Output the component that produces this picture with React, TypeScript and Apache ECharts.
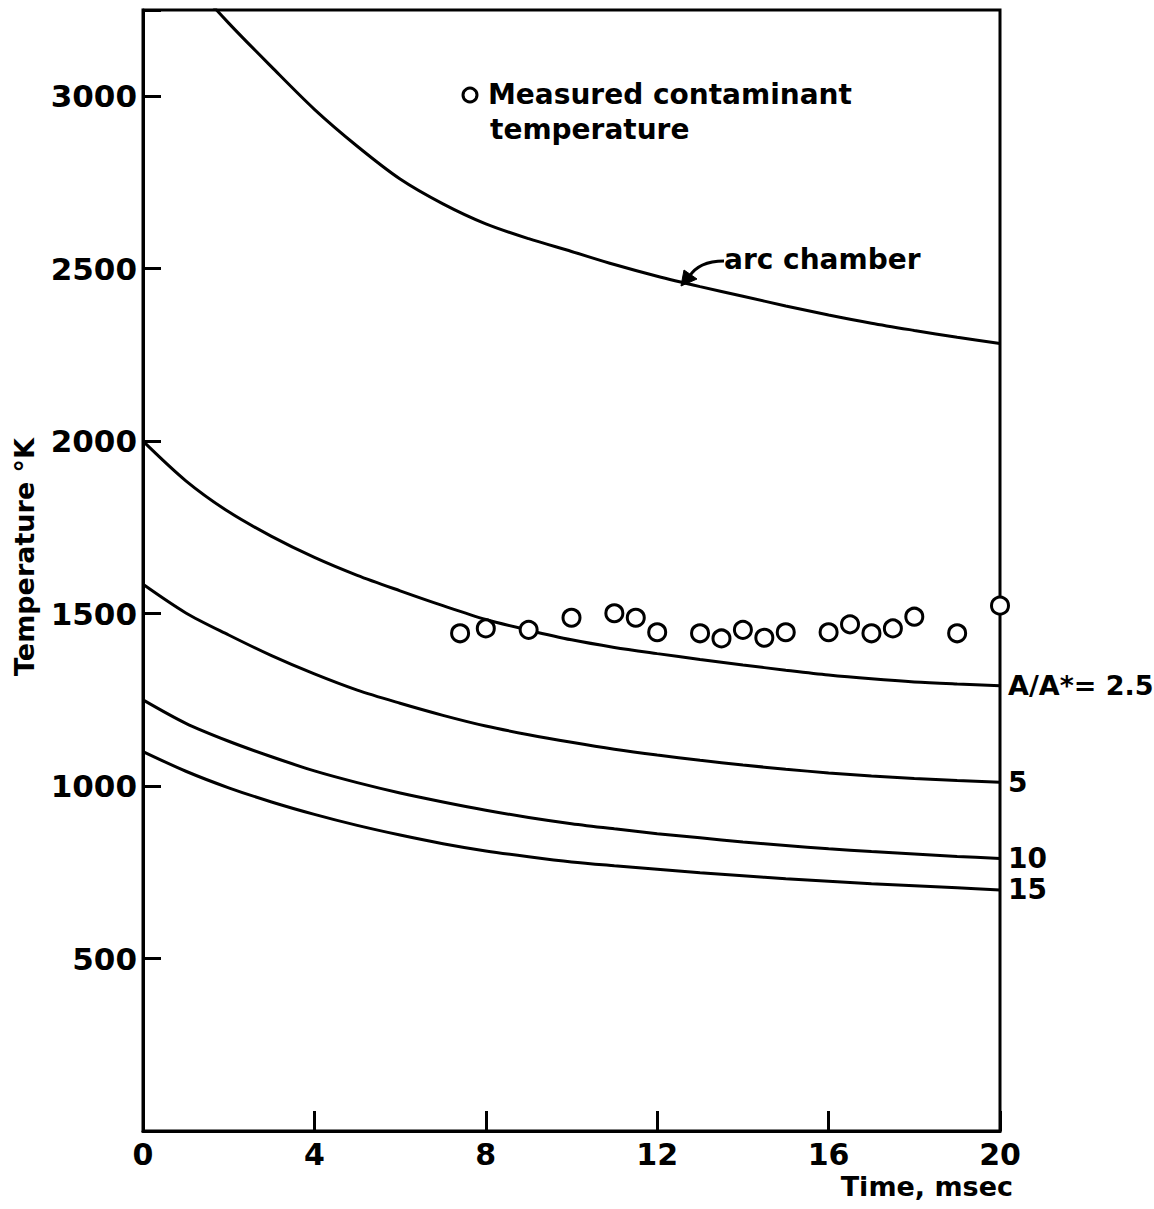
import React, { useEffect, useRef } from "react";
import * as echarts from "echarts";

// Time (msec) sample points shared by all curves
const curveTimes = [0, 1, 2, 3, 4, 5, 6, 7, 8, 9, 10, 11, 12, 13, 14, 15, 16, 17, 18, 19, 20];
// Arc chamber temperature (°K); first points lie above the plotted range and are clipped
const arcTemps = [3500, 3350, 3212, 3085, 2962, 2855, 2760, 2688, 2630, 2587, 2550, 2512, 2478, 2448, 2420, 2392, 2366, 2342, 2321, 2301, 2283];
// Temperature (°K) for A/A* = 2.5, 5, 10, 15
const ratio25Temps = [2000, 1885, 1795, 1724, 1663, 1611, 1566, 1523, 1483, 1452, 1424, 1402, 1384, 1367, 1351, 1336, 1322, 1311, 1302, 1296, 1291];
const ratio5Temps = [1585, 1502, 1438, 1378, 1325, 1278, 1240, 1205, 1174, 1149, 1127, 1107, 1090, 1075, 1061, 1049, 1038, 1029, 1022, 1016, 1011];
const ratio10Temps = [1250, 1182, 1130, 1085, 1044, 1010, 980, 954, 930, 909, 891, 876, 862, 850, 838, 828, 818, 810, 803, 796, 790];
const ratio15Temps = [1100, 1043, 995, 954, 918, 886, 858, 833, 812, 795, 780, 769, 759, 749, 740, 731, 724, 717, 711, 705, 699];

// Measured contaminant temperature
const measuredTimes = [7.4, 8, 9, 10, 11, 11.5, 12, 13, 13.5, 14, 14.5, 15, 16, 16.5, 17, 17.5, 18, 19, 20];
const measuredTemps = [1443, 1457, 1453, 1488, 1501, 1488, 1446, 1443, 1428, 1453, 1430, 1446, 1446, 1469, 1443, 1457, 1491, 1443, 1523];

// Axis ticks
const xTicks = [0, 4, 8, 12, 16, 20];
const yTicks = [500, 1000, 1500, 2000, 2500, 3000];

const curveLabels = ["A/A*= 2.5", "5", "10", "15"];

const FONT = "DejaVu Sans";

export default function App() {
  const ref = useRef<HTMLDivElement>(null);

  useEffect(() => {
    const chart = echarts.init(ref.current!, null, { renderer: "svg" });

    const pairs = (xs: number[], ys: number[]) => xs.map((x, i) => [x, ys[i]]);

    const lineSeries = (name: string, ys: number[], label?: string, labelSize = 28) => ({
      type: "line",
      name,
      data: pairs(curveTimes, ys),
      smooth: 0.3,
      showSymbol: false,
      clip: true,
      silent: true,
      z: 2,
      lineStyle: { color: "#000", width: 3 },
      itemStyle: { color: "#000" },
      endLabel: label
        ? {
            show: true,
            formatter: label,
            color: "#000",
            fontFamily: FONT,
            fontWeight: "bold",
            fontSize: labelSize,
            distance: 8,
          }
        : { show: false },
    });

    const option: any = {
      animation: false,
      backgroundColor: "#fff",
      grid: {
        left: 143,
        right: 154,
        top: 10,
        bottom: 78,
        show: true,
        borderColor: "#000",
        borderWidth: 3,
        backgroundColor: "transparent",
      },
      xAxis: {
        type: "value",
        min: xTicks[0],
        max: xTicks[xTicks.length - 1],
        interval: 4,
        axisLine: { show: true, lineStyle: { color: "#000", width: 3 } },
        axisTick: { show: true, inside: true, length: 20, lineStyle: { color: "#000", width: 3 } },
        axisLabel: {
          color: "#000",
          fontFamily: FONT,
          fontWeight: "bold",
          fontSize: 30,
          margin: 8,
          formatter: (v: number) => (xTicks.includes(v) ? String(v) : ""),
        },
        splitLine: { show: false },
      },
      yAxis: {
        type: "value",
        min: 0,
        max: 3250,
        interval: 500,
        axisLine: { show: true, lineStyle: { color: "#000", width: 3 } },
        axisTick: { show: true, inside: true, length: 18, lineStyle: { color: "#000", width: 3 } },
        axisLabel: {
          color: "#000",
          fontFamily: FONT,
          fontWeight: "bold",
          fontSize: 31,
          margin: 6,
          formatter: (v: number) => (yTicks.includes(v) ? String(v) : ""),
        },
        splitLine: { show: false },
      },
      series: [
        lineSeries("arc chamber", arcTemps),
        lineSeries("A/A*=2.5", ratio25Temps, curveLabels[0], 27),
        lineSeries("A/A*=5", ratio5Temps, curveLabels[1]),
        lineSeries("A/A*=10", ratio10Temps, curveLabels[2]),
        lineSeries("A/A*=15", ratio15Temps, curveLabels[3]),
        {
          type: "scatter",
          name: "Measured contaminant temperature",
          data: pairs(measuredTimes, measuredTemps),
          symbol: "circle",
          symbolSize: 17,
          clip: false,
          z: 5,
          itemStyle: { color: "#fff", borderColor: "#000", borderWidth: 3, opacity: 1 },
        },
      ],
      graphic: [
        // legend
        {
          type: "circle",
          shape: { cx: 470, cy: 95, r: 7 },
          style: { fill: "#fff", stroke: "#000", lineWidth: 3 },
        },
        {
          type: "text",
          x: 488,
          y: 94,
          style: {
            text: "Measured contaminant",
            fill: "#000",
            font: `bold 28px "${FONT}"`,
            textAlign: "left",
            textVerticalAlign: "middle",
          },
        },
        {
          type: "text",
          x: 490,
          y: 129,
          style: {
            text: "temperature",
            fill: "#000",
            font: `bold 28px "${FONT}"`,
            textAlign: "left",
            textVerticalAlign: "middle",
          },
        },
        // arc chamber annotation
        {
          type: "text",
          x: 724,
          y: 259,
          style: {
            text: "arc chamber",
            fill: "#000",
            font: `bold 28px "${FONT}"`,
            textAlign: "left",
            textVerticalAlign: "middle",
          },
        },
        {
          type: "bezierCurve",
          shape: { x1: 724, y1: 261, cpx1: 706, cpy1: 261, cpx2: 695, cpy2: 267, x2: 689, y2: 277 },
          style: { stroke: "#000", lineWidth: 3, fill: "none" },
        },
        {
          type: "polygon",
          shape: { points: [[681, 286], [684, 270], [697, 279]] },
          style: { fill: "#000", stroke: "#000", lineWidth: 1 },
        },
        // axis titles
        {
          type: "text",
          x: 24,
          y: 557,
          rotation: Math.PI / 2,
          style: {
            text: "Temperature °K",
            fill: "#000",
            font: `bold 27px "${FONT}"`,
            textAlign: "center",
            textVerticalAlign: "middle",
          },
        },
        {
          type: "text",
          x: 1013,
          y: 1186,
          style: {
            text: "Time, msec",
            fill: "#000",
            font: `bold 27px "${FONT}"`,
            textAlign: "right",
            textVerticalAlign: "middle",
          },
        },
      ],
    };

    chart.setOption(option);
    return () => chart.dispose();
  }, []);

  return (
    <div
      ref={ref}
      style={{ position: "fixed", left: 0, top: 0, width: 1154, height: 1209, background: "#fff" }}
    />
  );
}
